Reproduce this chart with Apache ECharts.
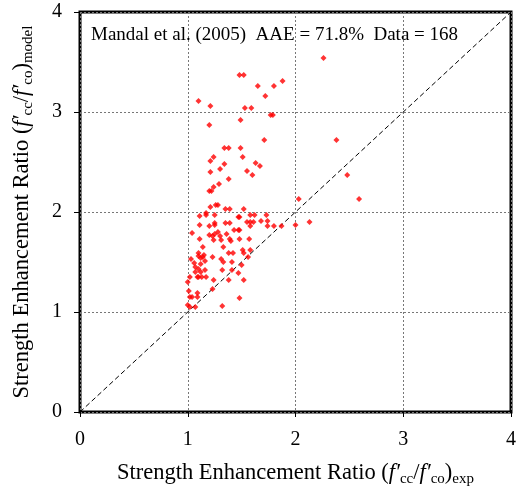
<!DOCTYPE html>
<html>
<head>
<meta charset="utf-8">
<script src="https://cdn.jsdelivr.net/npm/echarts@6/dist/echarts.min.js"></script>
<style>
  html, body { margin: 0; padding: 0; background: #fff; }
  #chart { width: 524px; height: 497px; }
</style>
</head>
<body>
<div id="chart"></div>
<script>
// Experimental vs. model-predicted strength enhancement ratio (f'cc/f'co)
const expRatio = [
  2.26,1.48,1.52,1.88,1.65,1.80,1.72,1.10,1.21,1.53,1.59,1.77,1.79,1.49,1.20,1.71,2.38,
  1.34,1.38,1.49,1.24,1.51,1.21,1.34,1.63,1.67,1.30,1.21,1.55,1.60,2.48,1.38,1.29,1.24,
  1.20,1.22,2.03,2.59,1.26,1.28,1.21,1.35,1.39,1.52,1.17,1.17,1.11,1.25,1.47,1.48,1.58,
  1.62,1.73,1.11,1.25,1.25,1.35,1.39,1.55,1.58,1.61,1.58,1.68,1.74,1.20,1.74,1.80,1.87,
  2.00,2.13,1.04,1.28,1.25,1.30,1.20,1.36,1.43,1.47,1.48,1.11,1.23,1.24,1.31,1.39,1.40,
  1.48,1.57,1.14,1.33,1.10,1.15,1.03,1.10,1.12,1.14,1.23,1.38,1.42,1.51,1.52,1.58,1.56,
  1.31,1.33,1.41,1.06,1.12,1.16,1.07,1.10,1.16,1.32,1.41,1.50,1.02,1.07,1.12,1.09,1.10,
  1.13,1.17,1.24,1.38,1.47,1.00,1.52,1.23,1.01,1.09,1.02,1.04,1.09,1.48,1.32,
  1.00,1.02,1.07
];
const modelRatio = [
  3.54,3.37,3.37,3.31,3.26,3.26,3.16,3.11,3.06,3.04,3.04,2.97,2.97,2.92,2.87,2.72,2.72,
  2.64,2.64,2.64,2.55,2.55,2.51,2.48,2.49,2.46,2.43,2.40,2.41,2.37,2.37,2.33,2.28,2.25,
  2.21,2.21,2.13,2.13,2.07,2.07,2.05,2.03,2.03,2.03,1.99,1.97,1.96,1.97,1.95,1.95,1.97,
  1.97,1.97,1.87,1.89,1.87,1.89,1.89,1.90,1.90,1.90,1.86,1.91,1.91,1.86,1.86,1.86,1.86,
  1.87,1.90,1.79,1.80,1.78,1.76,1.77,1.78,1.82,1.82,1.82,1.73,1.76,1.72,1.72,1.73,1.71,
  1.73,1.73,1.65,1.65,1.59,1.57,1.53,1.56,1.54,1.55,1.55,1.59,1.59,1.62,1.59,1.62,1.55,
  1.53,1.50,1.50,1.49,1.48,1.51,1.45,1.43,1.42,1.42,1.42,1.47,1.35,1.40,1.40,1.35,1.35,
  1.35,1.35,1.32,1.32,1.39,1.30,1.32,1.23,1.21,1.19,1.15,1.15,1.15,1.14,1.06,
  1.07,1.05,1.05
];
// line of equality
const equalityLine = [[0, 0], [4, 4]];
const axisTicks = [0, 1, 2, 3, 4];
const summaryText = 'Mandal et al. (2005)  AAE = 71.8%  Data = 168';

const serif = '"Liberation Serif", "Times New Roman", serif';
const points = expRatio.map((x, i) => [x, modelRatio[i]]);

const nameRich = {
  n: { fontFamily: serif, fontSize: 22.5, color: '#000', lineHeight: 28, verticalAlign: 'middle' },
  f: { fontFamily: serif, fontSize: 22.5, fontStyle: 'italic', color: '#000', lineHeight: 28, verticalAlign: 'middle' },
  s: { fontFamily: serif, fontSize: 15, color: '#000', lineHeight: 15, verticalAlign: 'bottom' }
};

const splitLine = { show: true, lineStyle: { color: '#777', width: 1, type: [2, 2] } };

const chart = echarts.init(document.getElementById('chart'), null, { renderer: 'canvas' });
chart.setOption({
  animation: false,
  backgroundColor: '#fff',
  title: {
    text: summaryText,
    left: 86, top: 21,
    textStyle: { fontFamily: serif, fontSize: 19, fontWeight: 'normal', color: '#000' }
  },
  grid: {
    left: 80, top: 12, right: 13, bottom: 85,
    containLabel: false, outerBoundsMode: 'none',
    show: true, borderColor: '#000', borderWidth: 3, backgroundColor: 'transparent'
  },
  xAxis: {
    type: 'value', min: 0, max: 4, interval: 1,
    axisLine: { show: false },
    axisTick: { show: true, length: 5, inside: false, lineStyle: { color: '#000', width: 1 } },
    axisLabel: {
      margin: 18, fontFamily: serif, fontSize: 20, color: '#000',
      formatter: v => axisTicks.includes(v) ? String(v) : ''
    },
    splitLine: splitLine,
    name: '{n|Strength Enhancement Ratio (}{f|f′}{s|cc}{n|/}{f|f′}{s|co}{n|)}{s|exp}',
    nameLocation: 'middle', nameGap: 47,
    nameTextStyle: { rich: nameRich }
  },
  yAxis: {
    type: 'value', min: 0, max: 4, interval: 1,
    axisLine: { show: false },
    axisTick: { show: true, length: 6, inside: false, lineStyle: { color: '#000', width: 1 } },
    axisLabel: {
      margin: 18, fontFamily: serif, fontSize: 20, color: '#000',
      formatter: v => axisTicks.includes(v) ? String(v) : ''
    },
    splitLine: splitLine,
    name: '{n|Strength Enhancement Ratio (}{f|f′}{s|cc}{n|/}{f|f′}{s|co}{n|)}{s|model}',
    nameLocation: 'middle', nameGap: 44, nameRotate: 90,
    nameTextStyle: { rich: nameRich }
  },
  series: [
    {
      type: 'line',
      data: equalityLine,
      symbol: 'none',
      silent: true,
      lineStyle: { color: '#000', width: 1, type: [5, 3] },
      z: 1
    },
    {
      type: 'scatter',
      data: points,
      symbol: 'diamond',
      symbolSize: 6,
      itemStyle: { color: '#ff0000' },
      z: 3
    }
  ]
});
</script>
</body>
</html>
